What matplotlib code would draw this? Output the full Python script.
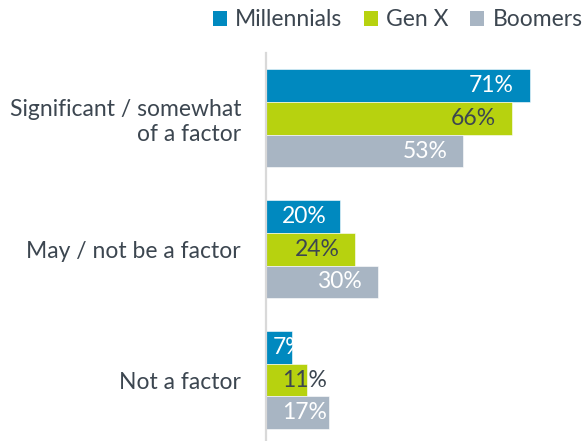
import matplotlib
matplotlib.use("Agg")
import matplotlib.pyplot as plt
from matplotlib.patches import Patch

plt.rcParams['font.family'] = ['Lato', 'DejaVu Sans']

categories = ["Significant / somewhat\nof a factor", "May / not be a factor", "Not a factor"]
series_names = ["Millennials", "Gen X", "Boomers"]
millennials = [71, 20, 7]
gen_x = [66, 24, 11]
boomers = [53, 30, 17]
series_values = [millennials, gen_x, boomers]

colors = ["#0089BF", "#B7D20F", "#A8B5C3"]
label_colors = ["white", "#3C4650", "white"]
text_color = "#3C4650"
fs = 16.5

W, H = 587, 441
fig = plt.figure(figsize=(W / 100, H / 100), dpi=100)
ax_left_px, ax_top_px = 266, 53
ax = fig.add_axes([ax_left_px / W, 0, 1 - ax_left_px / W, (H - ax_top_px) / H])

bar_h = 0.25
ax.set_xlim(0, (W - ax_left_px) / 3.72)
ax.set_ylim(2.466, -0.5)

bars_all = []
for k, (vals, col) in enumerate(zip(series_values, colors)):
    ys = [i + (k - 1) * bar_h for i in range(len(categories))]
    bars = ax.barh(ys, vals, height=bar_h, color=col, edgecolor="white", linewidth=0.4)
    bars_all.append(bars)

for s in ["top", "right", "bottom"]:
    ax.spines[s].set_visible(False)
ax.spines["left"].set_color("#D9D9D9")
ax.spines["left"].set_linewidth(1.6)
ax.set_xticks([])
ax.set_yticks(range(len(categories)))
ax.set_yticklabels(categories, fontsize=fs, color=text_color, multialignment="right")
ax.tick_params(axis="y", length=0, pad=18)

# value labels inside the bar end; short bars keep the label near the axis
fig.canvas.draw()
renderer = fig.canvas.get_renderer()
axis_x = ax.transData.transform((0, 0))[0]
for k, bars in enumerate(bars_all):
    for rect, v in zip(bars, series_values[k]):
        yc = rect.get_y() + rect.get_height() / 2
        txt = f"{v}%"
        t = ax.annotate(txt, xy=(v, yc), xytext=(-16, 0), textcoords="offset pixels",
                        ha="right", va="center", fontsize=fs, color=label_colors[k])
        bb = t.get_window_extent(renderer)
        if bb.x0 < axis_x + 16:
            t.remove()
            pad = 16 if len(txt) >= 3 else 7
            ax.annotate(txt, xy=(0, yc), xytext=(pad, 0), textcoords="offset pixels",
                        ha="left", va="center", fontsize=fs, color=label_colors[k])

handles = [Patch(facecolor=c, edgecolor="none") for c in colors]
fig.legend(handles, series_names, loc="center right", bbox_to_anchor=(1.0, 1 - 20 / H),
           ncol=3, frameon=False, fontsize=fs, labelcolor=text_color,
           handlelength=0.6, handleheight=0.6, handletextpad=0.36, columnspacing=0.95,
           borderaxespad=0.1, borderpad=0.1)

fig.savefig("out.png", dpi=100)
